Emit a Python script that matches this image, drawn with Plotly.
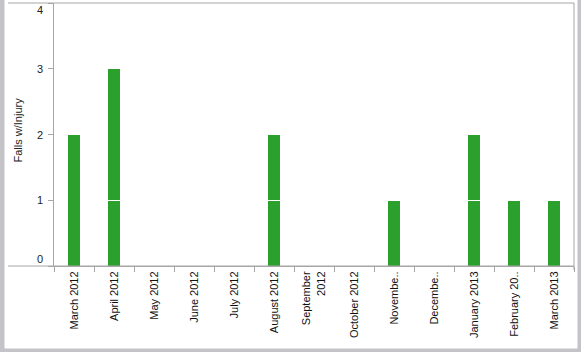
import plotly.graph_objects as go

months = ["March 2012", "April 2012", "May 2012", "June 2012", "July 2012",
          "August 2012", "September 2012", "October 2012", "November 2012",
          "December 2012", "January 2013", "February 2013", "March 2013"]
tick_labels = ["March 2012", "April 2012", "May 2012", "June 2012", "July 2012",
               "August 2012", "September<br>2012", "October 2012", "Novembe..",
               "Decembe..", "January 2013", "February 20..", "March 2013"]
falls_a = [2, 1, 0, 0, 0, 1, 0, 0, 1, 0, 1, 1, 1]
falls_b = [0, 2, 0, 0, 0, 1, 0, 0, 0, 0, 1, 0, 0]
y_ticks = [0, 1, 2, 3, 4]

W, H = 581, 352
L, R, T, B = 54, 7, 3, 86
pw, ph = W - L - R, H - T - B

def px(x):
    return (x - L) / pw

def py(y):
    return (H - B - y) / ph

GREEN = "#2ca02c"
AXIS = "#a6a6a6"
BAND = "#c3c3c8"
FONT = "Arial, Liberation Sans, sans-serif"

fig = go.Figure()
for vals in (falls_a, falls_b):
    fig.add_trace(go.Bar(x=months, y=vals, width=0.325, marker_color=GREEN,
                         marker_line=dict(color="white", width=1),
                         showlegend=False, hoverinfo="x+y"))

annotations = []
for v in y_ticks:
    shift = 7 if v == 0 else (-7 if v == 4 else 0)
    annotations.append(dict(x=0, xref="paper", y=v, yref="y", text=str(v),
                            showarrow=False, xanchor="right", xshift=-9,
                            yshift=shift, font=dict(size=11, color="#222", family=FONT)))
annotations.append(dict(x=0, xref="paper", y=0.5, yref="paper", yshift=4,
                        text="Falls w/Injury", textangle=-90, showarrow=False,
                        xanchor="center", xshift=-37,
                        font=dict(size=11, color="#222", family=FONT)))

shapes = [
    # frame lines
    dict(type="line", xref="paper", yref="paper", x0=px(8), x1=1, y0=1, y1=1,
         line=dict(color=AXIS, width=1)),
    dict(type="line", xref="paper", yref="paper", x0=px(8), x1=1, y0=0, y1=0,
         line=dict(color=AXIS, width=1)),
    dict(type="line", xref="paper", yref="paper", x0=1, x1=1, y0=py(270), y1=1,
         line=dict(color=AXIS, width=1)),
    # gray window bands
    dict(type="rect", xref="paper", yref="paper", x0=px(0), x1=px(4.5),
         y0=py(352), y1=py(0), fillcolor=BAND, line_width=0),
    dict(type="rect", xref="paper", yref="paper", x0=px(577.5), x1=px(581),
         y0=py(352), y1=py(0), fillcolor=BAND, line_width=0),
    dict(type="rect", xref="paper", yref="paper", x0=px(0), x1=px(581),
         y0=py(352), y1=py(348.5), fillcolor=BAND, line_width=0),
]

fig.update_layout(
    width=W, height=H, barmode="stack",
    margin=dict(l=L, r=R, t=T, b=B, pad=0),
    paper_bgcolor="white", plot_bgcolor="white",
    font=dict(family=FONT, size=11, color="#111"),
    xaxis=dict(type="category", tickmode="array", tickvals=months, ticktext=tick_labels,
               tickangle=-90, tickson="boundaries", ticks="outside", ticklen=5,
               tickcolor=AXIS, showline=True, linecolor=AXIS, showgrid=False,
               tickfont=dict(size=11, color="#111", family=FONT), range=[-0.5, 12.5]),
    yaxis=dict(range=[0, 4], tickvals=y_ticks, showticklabels=False, ticks="outside",
               ticklen=5, tickcolor=AXIS, showline=True, linecolor=AXIS,
               showgrid=False, zeroline=False, fixedrange=True),
    annotations=annotations, shapes=shapes,
)

fig.write_html("out.html")
